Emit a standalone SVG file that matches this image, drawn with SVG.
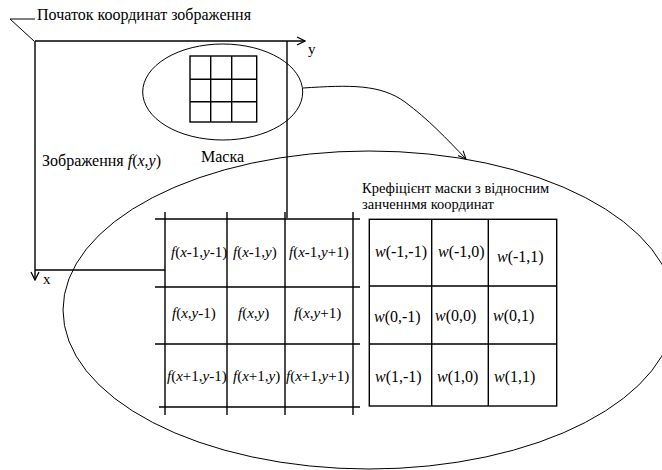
<svg xmlns="http://www.w3.org/2000/svg" width="662" height="470" viewBox="0 0 662 470">
<style>
text{font-family:"Liberation Serif","Times New Roman",serif;font-size:16px;fill:#000}
.i{font-style:italic}
.fc{font-size:15px}
.cap{font-size:14.5px}
.ln{stroke:#000;stroke-width:1.4;fill:none}
.th{stroke:#000;stroke-width:1;fill:none}
</style>
<defs>
<marker id="chev" viewBox="0 0 10 10" refX="9" refY="5" markerWidth="10" markerHeight="10" markerUnits="userSpaceOnUse" orient="auto">
<path d="M1,1 L9,5 L1,9" fill="none" stroke="#000" stroke-width="1.3"/>
</marker>
<marker id="barb" viewBox="0 0 10 10" refX="9" refY="5" markerWidth="9" markerHeight="9" markerUnits="userSpaceOnUse" orient="auto">
<path d="M0,1 L9,5 L0,9" fill="none" stroke="#000" stroke-width="1.2"/>
</marker>
</defs>

<g id="origin-label">
<text x="37" y="20">Початок координат зображення</text>
<path class="th" d="M35,19 L10,19 L34,41"/>
</g>

<g id="image-frame">
<path class="ln" d="M35,41 L305,41" marker-end="url(#chev)"/>
<path class="ln" d="M35,41 L35,280" marker-end="url(#chev)"/>
<path class="ln" d="M287,41 L287,218"/>
<path class="ln" d="M35,270 L165,270"/>
<text x="308" y="54" style="font-size:15px">y</text>
<text x="43" y="284" style="font-size:15px">x</text>
<text x="42" y="166">Зображення <tspan class="i">f</tspan>(<tspan class="i">x</tspan>,<tspan class="i">y</tspan>)</text>
</g>

<g id="mask">
<ellipse class="th" cx="222.7" cy="92" rx="80" ry="48"/>
<rect class="ln" x="190" y="56" width="66.7" height="66"/>
<path class="ln" d="M210.7,56 V122 M231.7,56 V122 M190,79.3 H256.7 M190,101.7 H256.7"/>
<text x="201" y="162">Маска</text>
</g>

<g id="zoom-ellipse">
<ellipse class="th" cx="369" cy="310" rx="306" ry="159"/>
</g>

<g id="f-grid">
<path class="ln" d="M165,212 V415 M227,212 V415 M285,212 V415 M353,212 V415 M155,219 H360 M155,287 H360 M155,344 H360 M159,407 H360"/>
<text class="fc" x="171" y="257"><tspan class="i">f</tspan>(<tspan class="i">x</tspan>-1,<tspan class="i">y</tspan>-1)</text>
<text class="fc" x="233" y="257"><tspan class="i">f</tspan>(<tspan class="i">x</tspan>-1,<tspan class="i">y</tspan>)</text>
<text class="fc" x="289" y="257"><tspan class="i">f</tspan>(<tspan class="i">x</tspan>-1,<tspan class="i">y</tspan>+1)</text>
<text class="fc" x="172" y="318"><tspan class="i">f</tspan>(<tspan class="i">x</tspan>,<tspan class="i">y</tspan>-1)</text>
<text class="fc" x="238" y="318"><tspan class="i">f</tspan>(<tspan class="i">x</tspan>,<tspan class="i">y</tspan>)</text>
<text class="fc" x="294" y="318"><tspan class="i">f</tspan>(<tspan class="i">x</tspan>,<tspan class="i">y</tspan>+1)</text>
<text class="fc" x="167" y="381"><tspan class="i">f</tspan>(<tspan class="i">x</tspan>+1,<tspan class="i">y</tspan>-1)</text>
<text class="fc" x="233" y="381"><tspan class="i">f</tspan>(<tspan class="i">x</tspan>+1,<tspan class="i">y</tspan>)</text>
<text class="fc" x="286" y="381"><tspan class="i">f</tspan>(<tspan class="i">x</tspan>+1,<tspan class="i">y</tspan>+1)</text>
</g>

<g id="w-grid">
<text class="cap" x="362" y="193">Крефіцієнт маски з відносним</text>
<text class="cap" x="362" y="209">занченнмя координат</text>
<rect class="ln" x="369.3" y="219.3" width="187.4" height="186.7"/>
<path class="ln" d="M431.7,219.3 V406 M488.3,219.3 V406 M369.3,286 H556.7 M369.3,344 H556.7"/>
<text x="375" y="257"><tspan class="i">w</tspan>(-1,-1)</text>
<text x="438" y="257"><tspan class="i">w</tspan>(-1,0)</text>
<text x="497" y="262"><tspan class="i">w</tspan>(-1,1)</text>
<text x="374" y="322"><tspan class="i">w</tspan>(0,-1)</text>
<text x="435" y="321"><tspan class="i">w</tspan>(0,0)</text>
<text x="493" y="321"><tspan class="i">w</tspan>(0,1)</text>
<text x="375" y="382"><tspan class="i">w</tspan>(1,-1)</text>
<text x="437" y="382"><tspan class="i">w</tspan>(1,0)</text>
<text x="494" y="382"><tspan class="i">w</tspan>(1,1)</text>
</g>

<g id="connectors">
<path class="th" d="M303,88 C350,85 380,84 405,102 C428,119 447,139 466,159" marker-end="url(#barb)"/>
</g>
</svg>
